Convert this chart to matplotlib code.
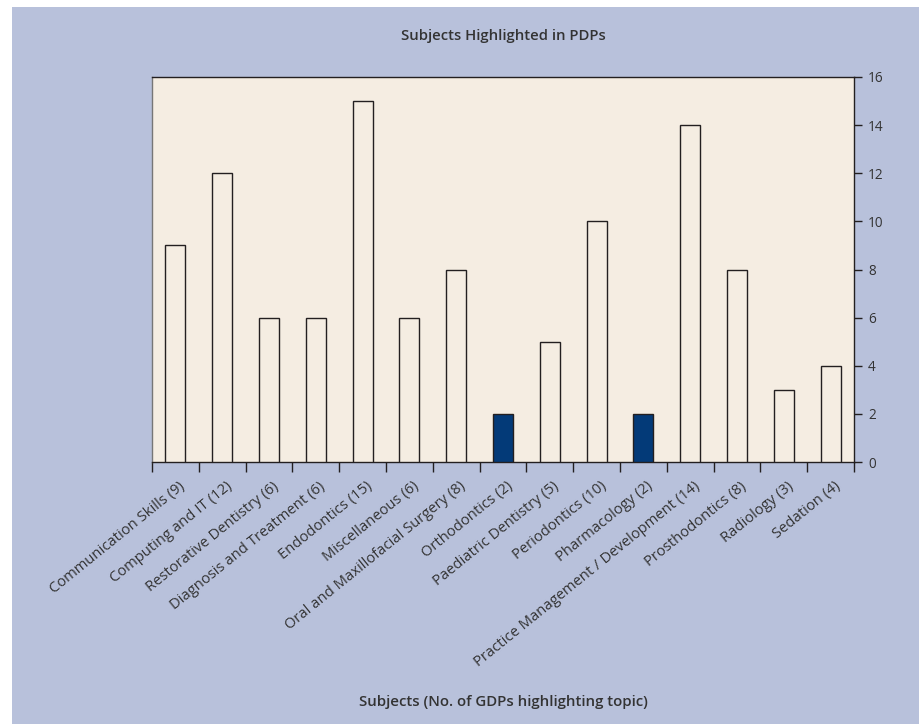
import numpy as np
import matplotlib
matplotlib.use("Agg")
import matplotlib.pyplot as plt
from matplotlib.patches import Rectangle
from matplotlib.transforms import ScaledTranslation

plt.rcParams['font.family'] = ['Open Sans', 'DejaVu Sans']

subjects = [
    "Communication Skills", "Computing and IT", "Restorative Dentistry",
    "Diagnosis and Treatment", "Endodontics", "Miscellaneous",
    "Oral and Maxillofacial Surgery", "Orthodontics", "Paediatric Dentistry",
    "Periodontics", "Pharmacology", "Practice Management / Development",
    "Prosthodontics", "Radiology", "Sedation",
]
counts = [9, 12, 6, 6, 15, 6, 8, 2, 5, 10, 2, 14, 8, 3, 4]
highlighted = ["Orthodontics", "Pharmacology"]
y_ticks = [0, 2, 4, 6, 8, 10, 12, 14, 16]

panel_bg = "#B8C1DB"
plot_bg = "#F5EDE2"
dark_blue = "#033A78"
edge = "#231F20"
text_col = "#333333"

fig = plt.figure(figsize=(9.2, 7.24), dpi=100, facecolor="white")
panel = Rectangle((12 / 920, 0), 1 - 12 / 920, 1 - 7 / 724,
                  transform=fig.transFigure, facecolor=panel_bg,
                  edgecolor="none", zorder=-10)
fig.patches.append(panel)

ax = fig.add_axes([152 / 920, 262 / 724, 702 / 920, 385 / 724])
ax.set_zorder(5)
ax.set_facecolor(plot_bg)

x = np.arange(len(subjects))
colors = [dark_blue if s in highlighted else plot_bg for s in subjects]
ax.bar(x, counts, width=0.43, color=colors, edgecolor=edge, linewidth=1.0, zorder=3)

ax.set_xlim(-0.5, len(subjects) - 0.5)
ax.set_ylim(0, 16)

# y axis on the right
ax.yaxis.tick_right()
ax.set_yticks(y_ticks)
ax.set_yticklabels([str(v) for v in y_ticks], fontsize=9.8, color=text_col)
ax.tick_params(axis="y", direction="out", length=6, width=1.0, color=edge, pad=4)

# category labels at centres, tick marks on boundaries
labels = [f"{s} ({c})" for s, c in zip(subjects, counts)]
ax.set_xticks(x)
ax.set_xticklabels(labels, rotation=39, ha="right", va="top",
                   rotation_mode="anchor", fontsize=10.6, color=text_col)
ax.set_xticks(np.arange(-0.5, len(subjects)), minor=True)
ax.tick_params(axis="x", which="major", length=0, pad=12)
ax.tick_params(axis="x", which="minor", direction="out", length=7.2, width=1.0, color=edge)
shift = ScaledTranslation(3 / 100, 0, fig.dpi_scale_trans)
for lbl in ax.get_xticklabels():
    lbl.set_transform(lbl.get_transform() + shift)

for side in ["top", "bottom", "right"]:
    ax.spines[side].set_color(edge)
    ax.spines[side].set_linewidth(1.0)
ax.spines["left"].set_color("#777777")
ax.spines["left"].set_linewidth(1.0)

cx = (152 + 854) / 2 / 920
fig.text(cx, 1 - 36 / 724, "Subjects Highlighted in PDPs", ha="center", va="center",
         fontsize=10.7, fontweight="semibold", color=text_col)
fig.text(cx, 22 / 724, "Subjects (No. of GDPs highlighting topic)", ha="center",
         va="center", fontsize=10.8, fontweight="semibold", color=text_col)

fig.savefig("out.png", dpi=100, facecolor=fig.get_facecolor())
